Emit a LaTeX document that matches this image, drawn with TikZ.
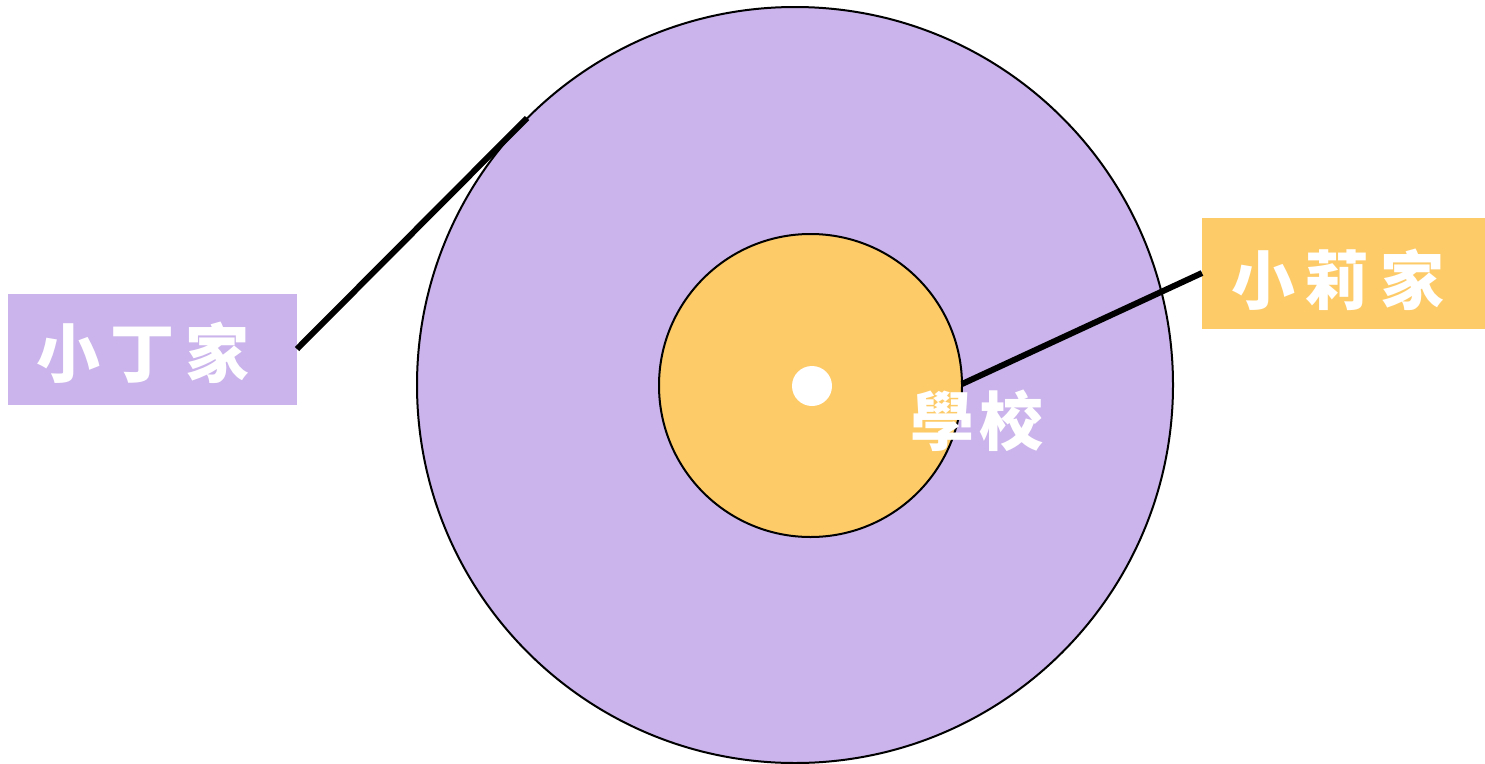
\documentclass[tikz,border=0pt]{standalone}
\usepackage{fontspec}
\newfontfamily\cjk{Noto Sans CJK TC}
\definecolor{lav}{HTML}{CAB4EB}
\definecolor{gold}{HTML}{FECB69}
\tikzset{
  lbl/.style={font=\cjk\bfseries\fontsize{64}{66}\selectfont, text=white, inner sep=0pt},
  link/.style={line width=6pt, black},
  ring/.style={draw=black, line width=2pt}
}
\newcommand{\gapch}{\hspace{11pt}}
\begin{document}
\begin{tikzpicture}[x=1pt,y=-1pt]
\useasboundingbox (0,0) rectangle (1485,763);
\fill[lav] (8,294) rectangle (297,405);
\fill[gold] (1202,218) rectangle (1485,329);
\draw[ring, fill=lav] (795,385) circle (378);
\draw[ring, fill=gold] (810.5,385.5) circle (151.5);
\fill[white] (812,386) circle (20);
\coordinate (lA) at (297,349);
\coordinate (lB) at (527,118);
\coordinate (rA) at (962,384);
\coordinate (rB) at (1202,273);
\draw[link] (lA) -- (lB);
\draw[link] (rA) -- (rB);
\node[lbl] (ding) at (143,353) {小\gapch 丁\gapch 家};
\node[lbl] (li) at (1338,280) {小\gapch 莉\gapch 家};
\node[lbl] (school) at (977,421) {學\hspace{6pt}校};
\end{tikzpicture}
\end{document}
